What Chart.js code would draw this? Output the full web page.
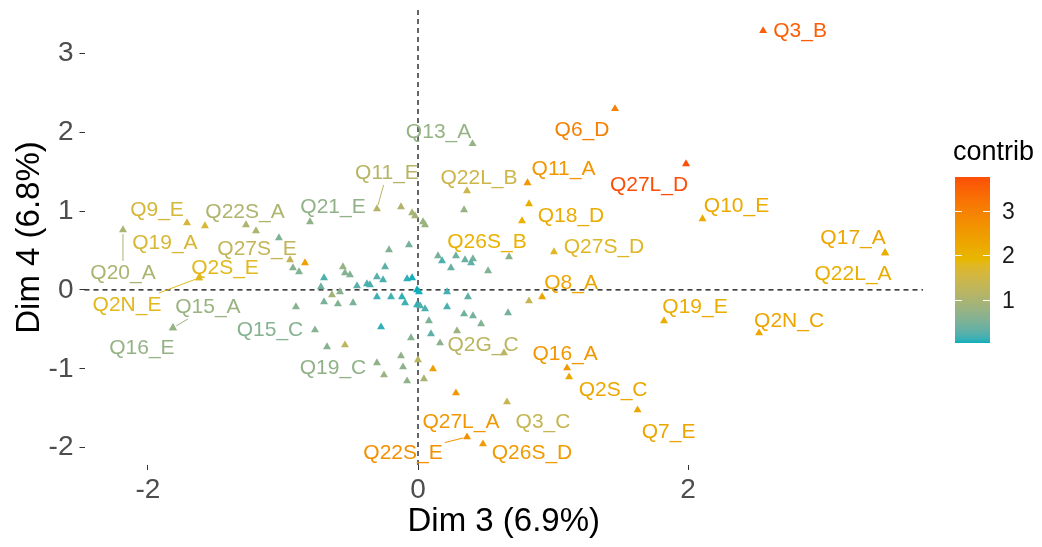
<!DOCTYPE html>
<html>
<head>
<meta charset="utf-8">
<script src="https://cdn.jsdelivr.net/npm/chart.js@4.4.0/dist/chart.umd.min.js"></script>
<style>
  html, body { margin: 0; padding: 0; background: #fff; }
</style>
</head>
<body>
<canvas id="chart" width="1042" height="547"></canvas>
<script>
// categories ("" = point drawn without a label)
const names = [
  "Q3_B", "Q6_D", "Q13_A", "Q27L_D", "Q11_A", "Q22L_B", "Q18_D", "Q26S_B", "Q27S_D", "Q10_E",
  "Q17_A", "Q22L_A", "Q8_A", "Q19_E", "Q2N_C", "Q16_A", "Q2S_C", "Q7_E", "Q3_C", "Q27L_A",
  "Q22S_E", "Q26S_D", "Q2G_C", "Q11_E", "Q21_E", "Q9_E", "Q19_A", "Q22S_A", "Q27S_E", "Q20_A",
  "Q2S_E", "Q2N_E", "Q15_A", "Q16_E", "Q15_C", "Q19_C",
  "", "", "", "", "", "", "", "", "", "",
  "", "", "", "", "", "", "", "", "", "",
  "", "", "", "", "", "", "", "", "", "",
  "", "", "", "", "", "", "", "", "", "",
  "", "", "", "", "", "", "", "", "", "",
  "", "", "", "", "", "", "", "", "", "",
  "", "", "", "", "", "", ""
];
// Dim 3 coordinates
const dim3 = [
  2.556, 1.459, 0.404, 1.985, 0.811, 0.363, 0.822, 0.770, 1.007, 2.107,
  3.459, 3.459, 0.919, 1.822, 2.526, 1.104, 1.119, 1.626, 0.659, 0.281,
  0.363, 0.481, 0.637, -0.304, -0.800, -1.711, -1.578, -1.274, -0.948, -2.185,
  -1.622, -1.622, -1.815, -1.815, -0.763, -0.304,
  -1.200, -1.030, -0.837, -0.926, -0.881, -0.556, -0.541, -0.504, -0.696, -0.244,
  -0.304, -0.259, -0.452, -0.378, -0.356, -0.719, -0.637, -0.578, -0.696, -0.593,
  -0.481, -0.904, -0.304, -0.200, -0.119, -0.096, -0.007, -0.081, -0.044, -0.007,
  -0.067, -0.215, -0.126, -0.044, -0.022, 0.037, 0.052, 0.341, 0.148, 0.178,
  0.281, 0.348, 0.407, 0.393, 0.244, 0.519, 0.674, 0.007, 0.215, 0.370,
  0.015, 0.052, 0.215, 0.341, 0.407, 0.467, 0.667, 0.081, 0.096, 0.289,
  0.163, 0.822, -0.274, -0.674, -0.541, -0.052, -0.252, -0.126, -0.111, -0.081,
  0.000, 0.111, 0.044
];
// Dim 4 coordinates
const dim4 = [
  3.287, 2.297, 1.853, 1.599, 1.358, 1.256, 1.091, 0.876, 0.482, 0.901,
  0.470, 0.470, -0.089, -0.393, -0.546, -0.990, -1.104, -1.523, -1.421, -1.307,
  -1.865, -1.954, -0.799, 1.028, 0.863, 0.850, 0.812, 0.825, 0.381, 0.761,
  0.152, 0.152, -0.482, -0.482, -0.508, -0.926,
  0.749, 0.660, 0.343, 0.279, 0.228, 0.292, 0.216, 0.190, 0.152, 0.292,
  0.165, 0.127, 0.051, 0.076, 0.063, 0.038, -0.063, -0.025, -0.152, -0.178,
  -0.165, -0.216, -0.089, -0.089, -0.089, -0.165, -0.190, 0.140, 0.152, 0.000,
  0.571, 0.508, 1.053, 0.977, 0.939, 0.863, 0.825, 1.015, 0.431, 0.368,
  0.431, 0.381, 0.393, 0.343, 0.279, 0.241, 0.419, -0.025, -0.025, -0.089,
  -0.203, -0.241, -0.216, -0.305, -0.330, -0.431, -0.292, -0.393, -0.558, -0.520,
  -0.673, -0.140, -0.470, -0.723, -0.698, -0.609, -1.079, -0.838, -0.977, -1.155,
  -0.888, -1.003, -1.129
];
// contribution (colour scale)
const contrib = [
  3.55, 3.00, 0.75, 3.76, 2.60, 1.45, 2.15, 2.05, 1.75, 2.20,
  2.30, 2.10, 2.30, 2.15, 2.30, 2.60, 2.25, 2.30, 1.35, 2.55,
  2.70, 2.50, 1.20, 1.15, 0.70, 1.60, 1.65, 1.05, 1.30, 1.00,
  1.80, 1.80, 0.80, 0.75, 0.60, 0.70,
  1.05, 0.55, 2.40, 0.60, 0.55, 0.75, 0.60, 0.55, 0.20, 0.30,
  0.25, 0.20, 0.30, 0.20, 0.20, 0.40, 0.90, 0.60, 0.50, 0.55,
  0.50, 0.60, 0.15, 0.15, 0.10, 0.15, 0.10, 0.10, 0.05, 0.03,
  0.45, 0.55, 1.10, 1.00, 0.90, 0.80, 0.80, 0.75, 0.50, 0.20,
  0.40, 0.35, 0.45, 0.30, 0.35, 0.55, 0.60, 0.05, 0.15, 0.30,
  0.20, 0.20, 0.20, 0.40, 0.45, 0.55, 0.45, 0.50, 0.30, 0.80,
  0.65, 1.35, 0.10, 0.60, 1.25, 0.60, 0.80, 0.70, 0.65, 0.70,
  1.20, 2.40, 0.95
];
const xTicks = [-2, 0, 2];
const yTicks = [-2, -1, 0, 1, 2, 3];
const legendTicks = [1, 2, 3];
const gradientCols = ["#00AFBB", "#E7B800", "#FC4E07"];

// label placement (pixel offsets from the point) and which labels get a leader line
const labelOffset = {
  "Q3_B": [37, 0], "Q6_D": [-33, 21], "Q13_A": [-34, -12], "Q27L_D": [-37, 21],
  "Q11_A": [36, -14], "Q22L_B": [12, -13], "Q18_D": [42, 12], "Q26S_B": [-35, 21],
  "Q27S_D": [50, -5], "Q10_E": [34, -13], "Q17_A": [-32, -15], "Q22L_A": [-32, 21],
  "Q8_A": [29, -14], "Q19_E": [31, -14], "Q2N_C": [30, -12], "Q16_A": [-2, -14],
  "Q2S_C": [44, 13], "Q7_E": [31, 22], "Q3_C": [36, 20], "Q27L_A": [5, 29],
  "Q22S_E": [-64, 16], "Q26S_D": [49, 9], "Q2G_C": [-21, -8], "Q11_E": [10, -36],
  "Q21_E": [23, -15], "Q9_E": [-30, -13], "Q19_A": [-40, 17], "Q22S_A": [-1, -13],
  "Q27S_E": [-33, -11], "Q20_A": [0, 43], "Q2S_E": [26, -10], "Q2N_E": [-72, 27],
  "Q15_A": [35, -21], "Q16_E": [-31, 20], "Q15_C": [-45, 0], "Q19_C": [-44, 5]
};
const leaders = ["Q11_E", "Q20_A", "Q2N_E", "Q15_A", "Q22S_E"];

const FONT = "'Liberation Sans', Arial, sans-serif";

// --- colour gradient interpolated in CIELAB like ggplot ---
function hexToRgb(h) {
  return [parseInt(h.slice(1, 3), 16), parseInt(h.slice(3, 5), 16), parseInt(h.slice(5, 7), 16)];
}
function toLin(c) { c /= 255; return c <= 0.04045 ? c / 12.92 : Math.pow((c + 0.055) / 1.055, 2.4); }
function fromLin(c) {
  c = c <= 0.0031308 ? 12.92 * c : 1.055 * Math.pow(c, 1 / 2.4) - 0.055;
  return Math.round(Math.max(0, Math.min(1, c)) * 255);
}
function rgbToLab(rgb) {
  const [r, g, b] = rgb.map(toLin);
  const X = (0.4124 * r + 0.3576 * g + 0.1805 * b) / 0.95047;
  const Y = 0.2126 * r + 0.7152 * g + 0.0722 * b;
  const Z = (0.0193 * r + 0.1192 * g + 0.9505 * b) / 1.08883;
  const f = t => t > 0.008856 ? Math.cbrt(t) : 7.787 * t + 16 / 116;
  const fx = f(X), fy = f(Y), fz = f(Z);
  return [116 * fy - 16, 500 * (fx - fy), 200 * (fy - fz)];
}
function labToRgb(lab) {
  const fy = (lab[0] + 16) / 116, fx = fy + lab[1] / 500, fz = fy - lab[2] / 200;
  const fi = t => { const t3 = t * t * t; return t3 > 0.008856 ? t3 : (t - 16 / 116) / 7.787; };
  const X = fi(fx) * 0.95047, Y = fi(fy), Z = fi(fz) * 1.08883;
  return [
    fromLin(3.2406 * X - 1.5372 * Y - 0.4986 * Z),
    fromLin(-0.9689 * X + 1.8758 * Y + 0.0415 * Z),
    fromLin(0.0557 * X - 0.2040 * Y + 1.0570 * Z)
  ];
}
const labCols = gradientCols.map(c => rgbToLab(hexToRgb(c)));
const cMin = Math.min(...contrib), cMax = Math.max(...contrib);

function colorFor(v) {
  let t = (v - cMin) / (cMax - cMin);
  t = Math.max(0, Math.min(1, t));
  let a, b, u;
  if (t < 0.5) { a = labCols[0]; b = labCols[1]; u = t * 2; }
  else { a = labCols[1]; b = labCols[2]; u = (t - 0.5) * 2; }
  const rgb = labToRgb([a[0] + (b[0] - a[0]) * u, a[1] + (b[1] - a[1]) * u, a[2] + (b[2] - a[2]) * u]);
  return "rgb(" + rgb.join(",") + ")";
}

// dashed zero lines behind the points
const zeroLines = {
  id: "zeroLines",
  beforeDatasetsDraw(chart) {
    const { ctx, chartArea, scales } = chart;
    const x0 = scales.x.getPixelForValue(0);
    const y0 = scales.y.getPixelForValue(0);
    ctx.save();
    ctx.strokeStyle = "#000";
    ctx.lineWidth = 1.2;
    ctx.setLineDash([5, 4]);
    ctx.beginPath();
    ctx.moveTo(x0, chartArea.top);
    ctx.lineTo(x0, chartArea.bottom);
    ctx.moveTo(chartArea.left, y0);
    ctx.lineTo(chartArea.right, y0);
    ctx.stroke();
    ctx.restore();
  }
};

// point labels + leader lines
const pointLabels = {
  id: "pointLabels",
  afterDatasetsDraw(chart) {
    const { ctx } = chart;
    const meta = chart.getDatasetMeta(0);
    ctx.save();
    ctx.font = "21px " + FONT;
    ctx.textAlign = "center";
    ctx.textBaseline = "middle";
    meta.data.forEach((pt, i) => {
      const name = names[i];
      if (!name || !labelOffset[name]) return;
      const [dx, dy] = labelOffset[name];
      const lx = pt.x + dx, ly = pt.y + dy;
      const col = colorFor(contrib[i]);
      if (leaders.includes(name)) {
        const hw = ctx.measureText(name).width / 2 + 2, hh = 12;
        const vx = pt.x - lx, vy = pt.y - ly;
        const s = Math.min(Math.abs(hw / (vx || 1e-6)), Math.abs(hh / (vy || 1e-6)));
        const len = Math.hypot(vx, vy);
        ctx.strokeStyle = col;
        ctx.lineWidth = 1;
        ctx.beginPath();
        ctx.moveTo(lx + vx * s, ly + vy * s);
        ctx.lineTo(pt.x - vx / len * 4, pt.y - vy / len * 4);
        ctx.stroke();
      }
      ctx.fillStyle = col;
      ctx.fillText(name, lx, ly);
    });
    ctx.restore();
  }
};

// colour bar legend on the right
const colorBar = {
  id: "colorBar",
  afterDraw(chart) {
    const { ctx } = chart;
    const x0 = 955, w = 35, top = 177, bottom = 343;
    const toY = v => bottom - (v - cMin) / (cMax - cMin) * (bottom - top);
    ctx.save();
    for (let y = top; y < bottom; y++) {
      const v = cMin + (bottom - y - 0.5) / (bottom - top) * (cMax - cMin);
      ctx.fillStyle = colorFor(v);
      ctx.fillRect(x0, y, w, 1);
    }
    ctx.strokeStyle = "#fff";
    ctx.lineWidth = 1;
    ctx.font = "23px " + FONT;
    ctx.fillStyle = "#1a1a1a";
    ctx.textAlign = "left";
    ctx.textBaseline = "middle";
    legendTicks.forEach(v => {
      const y = Math.round(toY(v)) + 0.5;
      ctx.beginPath();
      ctx.moveTo(x0, y); ctx.lineTo(x0 + 7, y);
      ctx.moveTo(x0 + w - 7, y); ctx.lineTo(x0 + w, y);
      ctx.stroke();
      ctx.fillText(String(v), 1002, y + 1);
    });
    ctx.font = "27px " + FONT;
    ctx.fillStyle = "#000";
    ctx.fillText("contrib", 953, 153);
    ctx.restore();
  }
};

const tickGrid = {
  display: true,
  drawOnChartArea: false,
  drawTicks: true,
  tickLength: 5,
  color: "#333333",
  lineWidth: 1
};

new Chart(document.getElementById("chart").getContext("2d"), {
  type: "scatter",
  data: {
    datasets: [{
      data: dim3.map((x, i) => ({ x: x, y: dim4[i] })),
      pointStyle: "triangle",
      pointRadius: 4.6,
      pointHoverRadius: 4.6,
      borderWidth: 0,
      backgroundColor: c => colorFor(contrib[c.dataIndex])
    }]
  },
  options: {
    responsive: false,
    animation: false,
    devicePixelRatio: 1,
    layout: { padding: { top: 10, right: 119, left: 0, bottom: 0 } },
    plugins: { legend: { display: false }, tooltip: { enabled: false } },
    scales: {
      x: {
        type: "linear",
        min: -2.47,
        max: 3.74,
        afterBuildTicks: s => { s.ticks = xTicks.map(v => ({ value: v })); },
        afterFit: s => { s.height = 82; },
        grid: tickGrid,
        border: { display: false },
        ticks: { font: { size: 28, family: FONT }, color: "#4D4D4D", padding: 3, maxRotation: 0 },
        title: {
          display: true, text: "Dim 3 (6.9%)", color: "#000",
          font: { size: 33, family: FONT, lineHeight: 1.2 }, padding: { top: 0, bottom: 5 }
        }
      },
      y: {
        type: "linear",
        min: -2.22,
        max: 3.55,
        afterBuildTicks: s => { s.ticks = yTicks.map(v => ({ value: v })); },
        afterFit: s => { s.width = 84.5; s.paddingTop = 0; s.paddingBottom = 0; },
        grid: tickGrid,
        border: { display: false },
        ticks: { font: { size: 28, family: FONT, lineHeight: 0.5 }, color: "#4D4D4D", padding: 6 },
        title: {
          display: true, text: "Dim 4 (6.8%)", color: "#000",
          font: { size: 33, family: FONT, lineHeight: 1.2 }, padding: { top: 10, bottom: 0 }
        }
      }
    }
  },
  plugins: [zeroLines, pointLabels, colorBar]
});
</script>
</body>
</html>
